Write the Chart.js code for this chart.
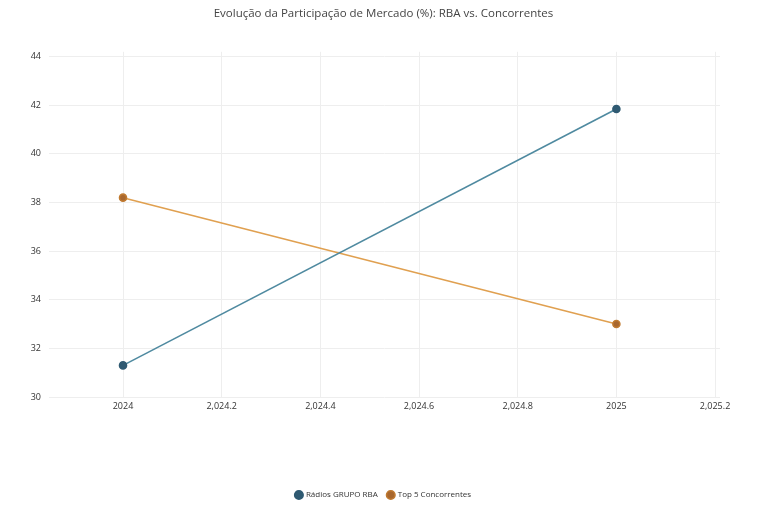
<!DOCTYPE html>
<html><head><meta charset="utf-8">
<script src="https://cdn.jsdelivr.net/npm/chart.js@4"></script>
<style>html,body{margin:0;padding:0;background:#fff}#w{width:767px;height:512px}</style>
</head><body><div id="w"><canvas id="c"></canvas></div>
<script>
const years = [2024, 2025];
const rba = [31.3, 41.85];
const top5 = [38.2, 33.0];
const xTicks = [2024, 2024.2, 2024.4, 2024.6, 2024.8, 2025, 2025.2];
const yTicks = [30, 32, 34, 36, 38, 40, 42, 44];
const seriesNames = ['Rádios GRUPO RBA', 'Top 5 Concorrentes'];

const font = {family: "'Open Sans', sans-serif", size: 9};
new Chart(document.getElementById('c'), {
  type: 'line',
  data: {datasets: [
    {label: seriesNames[0], data: years.map((x,i)=>({x, y: rba[i]})), borderColor: '#4f8aa0', backgroundColor: '#2f5a72', pointBackgroundColor: '#2f5a72', pointBorderColor: '#2f5a72', pointRadius: 3.5, borderWidth: 1.6},
    {label: seriesNames[1], data: years.map((x,i)=>({x, y: top5[i]})), borderColor: '#e0a050', backgroundColor: '#a8672e', pointBackgroundColor: '#a8672e', pointBorderColor: '#c07a30', pointRadius: 3.5, borderWidth: 1.6}
  ]},
  options: {
    responsive: true, maintainAspectRatio: false, animation: false,
    layout: {padding: {left: 0, right: 0, top: 0, bottom: 3}},
    plugins: {
      title: {display: true, text: 'Evolução da Participação de Mercado (%): RBA vs. Concorrentes', color: '#444', font: {family: "'Open Sans', sans-serif", size: 11.5, weight: 'normal'}, padding: {top: 7, bottom: 31}},
      legend: {position: 'bottom', labels: {usePointStyle: true, pointStyle: 'circle', boxWidth: 6, boxHeight: 6, color: '#333', font: {family: "'Open Sans', sans-serif", size: 8}}},
      tooltip: {enabled: false}
    },
    scales: {
      x: {type: 'linear', min: 2023.85, max: 2025.21,
        afterBuildTicks: s => { s.ticks = xTicks.map(v => ({value: v})); },
        afterFit: s => { s.height = 84; },
        ticks: {color: '#333', font, padding: 4, maxRotation: 0, callback: v => Number.isInteger(v) ? String(v) : Number(v).toLocaleString('en-US')},
        grid: {color: '#eee', drawTicks: false}, border: {display: false}},
      y: {min: 30, max: 44.2,
        afterBuildTicks: s => { s.ticks = yTicks.map(v => ({value: v})); },
        afterFit: s => { s.width = 49; },
        ticks: {color: '#333', font, padding: 8, align: 'center'},
        grid: {color: '#eee', drawTicks: false}, border: {display: false}},
      yR: {position: 'right', min: 30, max: 44.2,
        afterFit: s => { s.width = 47; },
        ticks: {display: false}, grid: {display: false}, border: {display: false}}
    }
  }
});
</script></body></html>
